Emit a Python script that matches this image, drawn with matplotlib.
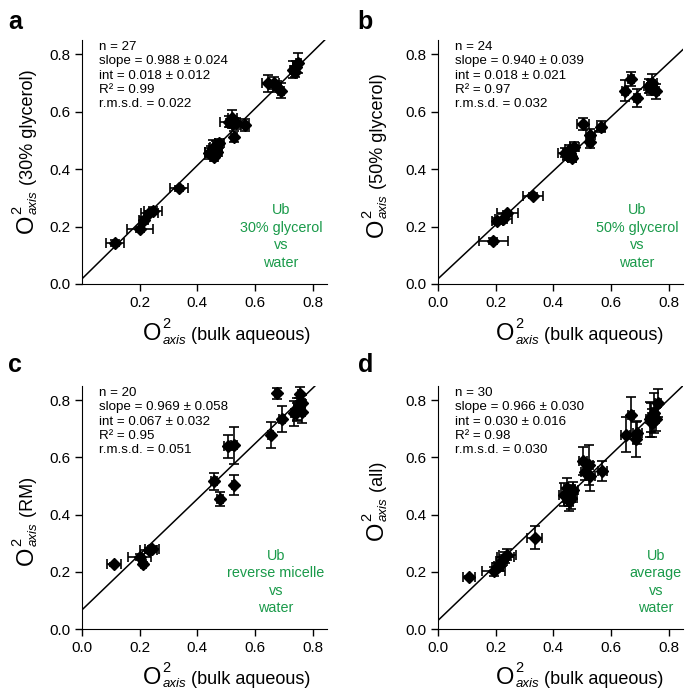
import matplotlib
matplotlib.use("Agg")
import matplotlib.pyplot as plt
import numpy as np

plt.rcParams['font.family'] = ['Liberation Sans', 'DejaVu Sans']

# panel a : 30% glycerol vs water
xa = [0.114, 0.200, 0.214, 0.233, 0.246, 0.337, 0.440, 0.448, 0.454, 0.459, 0.465, 0.470, 0.477, 0.510,
      0.520, 0.522, 0.526, 0.534, 0.566, 0.646, 0.665, 0.677, 0.691, 0.731, 0.740, 0.743, 0.751]
ya = [0.144, 0.190, 0.223, 0.246, 0.256, 0.333, 0.455, 0.461, 0.473, 0.444, 0.478, 0.460, 0.490, 0.566,
      0.560, 0.577, 0.513, 0.560, 0.554, 0.699, 0.700, 0.688, 0.674, 0.746, 0.740, 0.757, 0.771]
xa_err = [0.03, 0.045, 0.015, 0.03, 0.03, 0.03, 0.015, 0.02, 0.015, 0.01, 0.02, 0.015, 0.015, 0.03,
          0.02, 0.015, 0.01, 0.015, 0.015, 0.02, 0.02, 0.015, 0.01, 0.01, 0.01, 0.01, 0.01]
ya_err = [0.01, 0.01, 0.01, 0.01, 0.012, 0.01, 0.02, 0.02, 0.03, 0.015, 0.02, 0.015, 0.015, 0.02,
          0.015, 0.03, 0.02, 0.02, 0.02, 0.03, 0.02, 0.02, 0.025, 0.03, 0.02, 0.02, 0.035]

# panel b : 50% glycerol vs water
xb = [0.192, 0.206, 0.227, 0.241, 0.331, 0.442, 0.448, 0.455, 0.457, 0.460, 0.465, 0.473, 0.503, 0.527,
      0.529, 0.566, 0.648, 0.669, 0.690, 0.733, 0.738, 0.740, 0.744, 0.756]
yb = [0.149, 0.219, 0.228, 0.246, 0.308, 0.458, 0.448, 0.455, 0.469, 0.445, 0.439, 0.478, 0.557, 0.495,
      0.519, 0.548, 0.674, 0.715, 0.648, 0.689, 0.680, 0.690, 0.700, 0.671]
xb_err = [0.05, 0.02, 0.03, 0.035, 0.035, 0.025, 0.015, 0.02, 0.015, 0.015, 0.015, 0.015, 0.02, 0.01,
          0.015, 0.015, 0.01, 0.01, 0.01, 0.02, 0.015, 0.01, 0.015, 0.01]
yb_err = [0.01, 0.01, 0.015, 0.01, 0.01, 0.015, 0.015, 0.02, 0.015, 0.015, 0.015, 0.015, 0.02, 0.02,
          0.02, 0.02, 0.035, 0.025, 0.03, 0.025, 0.02, 0.02, 0.03, 0.025]

# panel c : reverse micelle vs water
xc = [0.111, 0.200, 0.213, 0.231, 0.242, 0.457, 0.480, 0.507, 0.527, 0.527, 0.654, 0.675, 0.695, 0.735,
      0.745, 0.747, 0.753, 0.756, 0.762, 0.764]
yc = [0.226, 0.252, 0.229, 0.275, 0.279, 0.517, 0.456, 0.639, 0.643, 0.505, 0.678, 0.824, 0.734, 0.754,
      0.760, 0.768, 0.777, 0.821, 0.760, 0.789]
xc_err = [0.025, 0.04, 0.01, 0.03, 0.025, 0.01, 0.01, 0.015, 0.01, 0.005, 0.01, 0.005, 0.01, 0.01,
          0.01, 0.01, 0.01, 0.005, 0.01, 0.01]
yc_err = [0.005, 0.01, 0.005, 0.01, 0.01, 0.03, 0.025, 0.04, 0.065, 0.035, 0.045, 0.02, 0.045, 0.045,
          0.03, 0.04, 0.03, 0.025, 0.04, 0.03]

# panel d : average vs water
xd = [0.107, 0.194, 0.206, 0.210, 0.221, 0.233, 0.241, 0.335, 0.436, 0.448, 0.453, 0.455, 0.460, 0.462,
      0.469, 0.503, 0.510, 0.523, 0.529, 0.570, 0.651, 0.669, 0.686, 0.692, 0.736, 0.740, 0.744, 0.750,
      0.756, 0.762]
yd = [0.182, 0.202, 0.217, 0.220, 0.237, 0.251, 0.260, 0.319, 0.470, 0.494, 0.447, 0.460, 0.475, 0.459,
      0.485, 0.587, 0.550, 0.575, 0.534, 0.552, 0.680, 0.747, 0.663, 0.686, 0.733, 0.740, 0.721, 0.756,
      0.733, 0.791]
xd_err = [0.02, 0.04, 0.02, 0.015, 0.02, 0.03, 0.03, 0.025, 0.015, 0.02, 0.015, 0.02, 0.015, 0.02,
          0.015, 0.015, 0.015, 0.015, 0.015, 0.015, 0.015, 0.01, 0.01, 0.015, 0.015, 0.01, 0.01, 0.01,
          0.01, 0.01]
yd_err = [0.005, 0.015, 0.015, 0.01, 0.015, 0.02, 0.02, 0.04, 0.04, 0.035, 0.035, 0.03, 0.03, 0.04,
          0.03, 0.05, 0.03, 0.07, 0.05, 0.035, 0.06, 0.065, 0.06, 0.04, 0.06, 0.05, 0.05, 0.07,
          0.04, 0.05]

slopes = [0.988, 0.940, 0.969, 0.966]
intercepts = [0.018, 0.018, 0.067, 0.030]
stats_text = [
    "n = 27\nslope = 0.988 ± 0.024\nint = 0.018 ± 0.012\nR² = 0.99\nr.m.s.d. = 0.022",
    "n = 24\nslope = 0.940 ± 0.039\nint = 0.018 ± 0.021\nR² = 0.97\nr.m.s.d. = 0.032",
    "n = 20\nslope = 0.969 ± 0.058\nint = 0.067 ± 0.032\nR² = 0.95\nr.m.s.d. = 0.051",
    "n = 30\nslope = 0.966 ± 0.030\nint = 0.030 ± 0.016\nR² = 0.98\nr.m.s.d. = 0.030",
]
green_text = ["Ub\n30% glycerol\nvs\nwater", "Ub\n50% glycerol\nvs\nwater",
              "Ub\nreverse micelle\nvs\nwater", "Ub\naverage\nvs\nwater"]
green_x = [0.69, 0.69, 0.672, 0.756]
ylabels = ["(30% glycerol)", "(50% glycerol)", "(RM)", "(all)"]
xlabel = "(bulk aqueous)"
letters = ["a", "b", "c", "d"]

data = [(xa, ya, xa_err, ya_err), (xb, yb, xb_err, yb_err),
        (xc, yc, xc_err, yc_err), (xd, yd, xd_err, yd_err)]

fig = plt.figure(figsize=(6.85, 6.92), dpi=100)
rects = [[0.1197, 0.5896, 0.3577, 0.3526], [0.6394, 0.5896, 0.3577, 0.3526],
         [0.1197, 0.0910, 0.3577, 0.3512], [0.6394, 0.0910, 0.3577, 0.3512]]
letter_pos = [(0.012, 0.985), (0.522, 0.985), (0.012, 0.49), (0.522, 0.49)]
# where the big "O" of each axis label starts (axes fraction)
xlab_pos = [(0.25, -0.23), (0.237, -0.23), (0.25, -0.226), (0.237, -0.226)]
ylab_pos = [(-0.2, 0.209), (-0.224, 0.193), (-0.2, 0.263), (-0.224, 0.366)]


def axis_label(ax, x0, y0, rest, vertical):
    # big O, a "2" above and "axis" below, then the normal text after them
    if not vertical:
        t1 = ax.text(x0, y0, "O", transform=ax.transAxes, fontsize=17, ha='left', va='baseline')
        ax.annotate("2", xy=(1, y0), xycoords=(t1, ax.transAxes), xytext=(0.6, 8.5),
                    textcoords='offset points', fontsize=10.5, ha='left', va='baseline',
                    annotation_clip=False)
        t3 = ax.annotate("axis", xy=(1, y0), xycoords=(t1, ax.transAxes), xytext=(0.6, -2.5),
                         textcoords='offset points', fontsize=9.5, style='italic', ha='left',
                         va='baseline', annotation_clip=False)
        ax.annotate(" " + rest, xy=(1, y0), xycoords=(t3, ax.transAxes), fontsize=13,
                    ha='left', va='baseline', annotation_clip=False)
    else:
        kw = dict(rotation=90, rotation_mode='anchor', ha='left', va='baseline')
        t1 = ax.text(x0, y0, "O", transform=ax.transAxes, fontsize=17, **kw)
        ax.annotate("2", xy=(x0, 1), xycoords=(ax.transAxes, t1), xytext=(-8.5, 0.6),
                    textcoords='offset points', fontsize=10.5, annotation_clip=False, **kw)
        t3 = ax.annotate("axis", xy=(x0, 1), xycoords=(ax.transAxes, t1), xytext=(2.5, 0.6),
                         textcoords='offset points', fontsize=9.5, style='italic',
                         annotation_clip=False, **kw)
        ax.annotate(" " + rest, xy=(x0, 1), xycoords=(ax.transAxes, t3), fontsize=13,
                    annotation_clip=False, **kw)


for i in range(4):
    ax = fig.add_axes(rects[i])
    x, y, xe, ye = data[i]
    line_x = np.array([0, 0.86])
    ax.plot(line_x, slopes[i] * line_x + intercepts[i], color='black', lw=1.1, zorder=1)
    ax.errorbar(x, y, xerr=xe, yerr=ye, fmt='D', color='black', ms=6.5, ecolor='black',
                elinewidth=1.2, capsize=3.5, capthick=1.2, zorder=2)
    ax.set_xlim(0, 0.85)
    ax.set_ylim(0, 0.85)
    if i == 0:
        ax.set_xticks([0.2, 0.4, 0.6, 0.8])
    else:
        ax.set_xticks([0.0, 0.2, 0.4, 0.6, 0.8])
    ax.set_yticks([0.0, 0.2, 0.4, 0.6, 0.8])
    ax.xaxis.set_major_formatter(matplotlib.ticker.FormatStrFormatter('%.1f'))
    ax.yaxis.set_major_formatter(matplotlib.ticker.FormatStrFormatter('%.1f'))
    ax.spines['top'].set_visible(False)
    ax.spines['right'].set_visible(False)
    ax.tick_params(direction='out', length=5, width=1, labelsize=11)
    axis_label(ax, xlab_pos[i][0], xlab_pos[i][1], xlabel, False)
    axis_label(ax, ylab_pos[i][0], ylab_pos[i][1], ylabels[i], True)
    ax.text(0.07, 0.995, stats_text[i], transform=ax.transAxes, ha='left', va='top',
            fontsize=9.6, linespacing=1.25)
    ax.text(green_x[i], 0.165, green_text[i], ha='center', va='center', fontsize=10.4,
            color='#1a9a4a', linespacing=1.32, clip_on=False)
    fig.text(letter_pos[i][0], letter_pos[i][1], letters[i], fontsize=18, fontweight='bold',
             ha='left', va='top')

fig.savefig("out.png", dpi=100)
